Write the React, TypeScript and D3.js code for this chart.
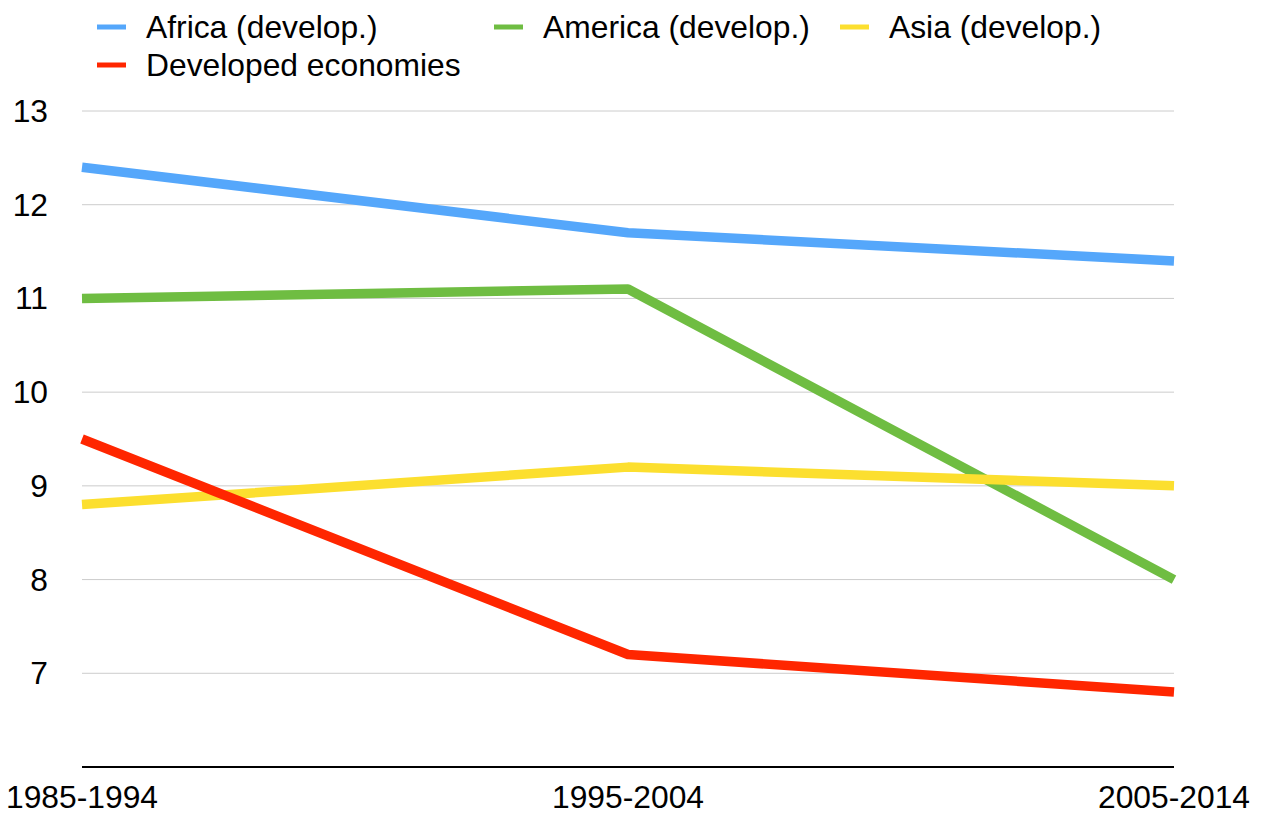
import React from "react";
import * as d3 from "d3";

const periods = ["1985-1994", "1995-2004", "2005-2014"];
const africa = [12.4, 11.7, 11.4];
const america = [11.0, 11.1, 8.0];
const asia = [8.8, 9.2, 9.0];
const developed = [9.5, 7.2, 6.8];
const yTicks = [7, 8, 9, 10, 11, 12, 13];

const seriesList = [
  { name: "Africa (develop.)", values: africa, color: "#55a7fb" },
  { name: "America (develop.)", values: america, color: "#6fbd42" },
  { name: "Asia (develop.)", values: asia, color: "#fcdf2f" },
  { name: "Developed economies", values: developed, color: "#ff2600" },
];

const W = 1267;
const H = 814;
const plot = { left: 82, right: 1174, top: 111, bottom: 767 };
const FONT = "'Liberation Sans', Arial, sans-serif";
const FS = 31.8;

export default function App() {
  const x = d3.scalePoint<string>().domain(periods).range([plot.left, plot.right]);
  const y = d3.scaleLinear().domain([6, 13]).range([plot.bottom, plot.top]);
  const line = d3
    .line<[string, number]>()
    .x((d) => x(d[0]) as number)
    .y((d) => y(d[1]));

  const legendPos = [
    { x: 97, y: 27 },
    { x: 494, y: 27 },
    { x: 840, y: 27 },
    { x: 97, y: 65 },
  ];

  return (
    <svg
      width={W}
      height={H}
      style={{ position: "absolute", left: 0, top: 0, background: "#fff" }}
      fontFamily={FONT}
    >
      {/* legend */}
      {seriesList.map((s, i) => (
        <g key={s.name} transform={`translate(${legendPos[i].x},${legendPos[i].y})`}>
          <line x1={0} x2={29} y1={0} y2={0} stroke={s.color} strokeWidth={5} />
          <text x={49} y={11} fontSize={FS} fill="#000">
            {s.name}
          </text>
        </g>
      ))}

      {/* gridlines and y labels */}
      {yTicks.map((t) => (
        <g key={t}>
          <line x1={plot.left} x2={plot.right} y1={y(t)} y2={y(t)} stroke="#cccccc" strokeWidth={1} />
          <text x={48} y={y(t) + 11} textAnchor="end" fontSize={FS} fill="#000">
            {t}
          </text>
        </g>
      ))}

      {/* series */}
      {seriesList.map((s) => (
        <path
          key={s.name}
          d={line(periods.map((p, i) => [p, s.values[i]] as [string, number])) || ""}
          fill="none"
          stroke={s.color}
          strokeWidth={9.5}
          strokeLinejoin="round"
        />
      ))}

      {/* baseline */}
      <line x1={plot.left} x2={plot.right} y1={plot.bottom} y2={plot.bottom} stroke="#000" strokeWidth={2} />

      {/* x labels */}
      {periods.map((p) => (
        <text key={p} x={x(p)} y={808} textAnchor="middle" fontSize={FS} fill="#000">
          {p}
        </text>
      ))}
    </svg>
  );
}
